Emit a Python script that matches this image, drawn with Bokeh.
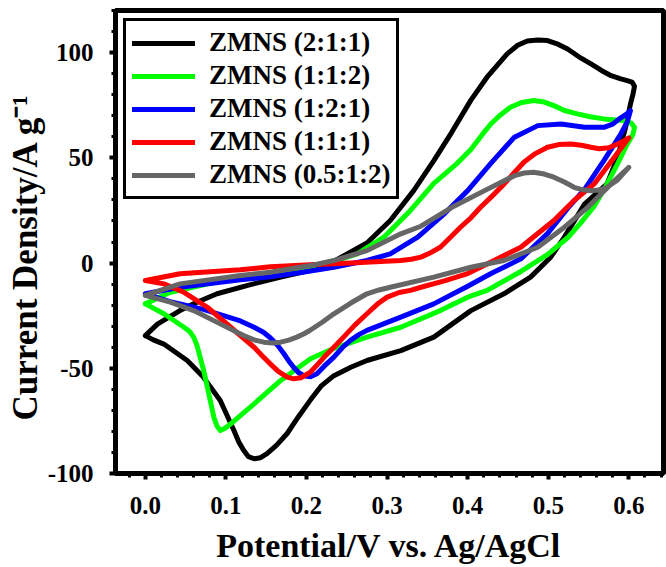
from bokeh.plotting import figure
from bokeh.models import (Range1d, FixedTicker, PrintfTickFormatter, Legend,
                          LegendItem, Title)
from bokeh.embed import file_html
from bokeh.resources import INLINE

# ---------------- data ----------------
labels = ["ZMNS (2:1:1)", "ZMNS (1:1:2)", "ZMNS (1:2:1)", "ZMNS (1:1:1)", "ZMNS (0.5:1:2)"]
colors = ["#000000", "#00ff00", "#0000ff", "#ff0000", "#666666"]

# ZMNS (2:1:1)
black_x = [0.0, 0.015, 0.043, 0.064, 0.089, 0.126, 0.168, 0.205, 0.23, 0.251, 0.275, 0.304,
           0.333, 0.358, 0.38, 0.404, 0.424, 0.449, 0.462, 0.474, 0.487, 0.499, 0.512, 0.524,
           0.538, 0.553, 0.566, 0.578, 0.59, 0.598, 0.604, 0.607, 0.605, 0.602, 0.596, 0.586,
           0.573, 0.545, 0.52, 0.503, 0.478, 0.445, 0.404, 0.358, 0.317, 0.275, 0.255, 0.234,
           0.218, 0.205, 0.19, 0.176, 0.163, 0.151, 0.143, 0.135, 0.128, 0.122, 0.116, 0.110,
           0.093, 0.072, 0.052, 0.023, 0.01, 0.0]
black_y = [-34.5, -29, -22.6, -18.6, -14.6, -10.7, -6.7, -3.5, 0, 4.4, 9.5, 20.2,
           34.4, 48.7, 62, 77.4, 88.3, 99.4, 103.5, 105.5, 106, 105.7, 104, 101.7,
           98, 94.6, 91.5, 89, 87.5, 86.7, 86, 84, 80, 75.6, 64.5, 50.3,
           37.6, 28, 12.3, 2.8, -6.7, -14.6, -22.6, -35.2, -41.6, -46.3, -49.5, -53.5,
           -58.5, -65, -73, -81, -86.5, -90.6, -92.5, -93, -92, -89, -85, -79.6,
           -65.3, -54.2, -46.3, -38.5, -36.5, -34.5]

# ZMNS (1:1:2)
green_x = [0.0, 0.031, 0.064, 0.1, 0.15, 0.2, 0.24, 0.263, 0.296, 0.329, 0.358, 0.387, 0.404,
           0.418, 0.429, 0.441, 0.453, 0.467, 0.482, 0.495, 0.507, 0.52, 0.536, 0.552, 0.569,
           0.585, 0.594, 0.603, 0.607, 0.605, 0.598, 0.586, 0.573, 0.557, 0.54, 0.524, 0.499,
           0.466, 0.424, 0.4, 0.366, 0.317, 0.275, 0.234, 0.205, 0.168, 0.135, 0.106, 0.099,
           0.093, 0.089, 0.085, 0.081, 0.077, 0.073, 0.068, 0.064, 0.060, 0.055, 0.048, 0.023,
           0.0]
green_y = [-19.4, -13.9, -11, -8, -5, -2, 1.5, 4.4, 12.3, 25, 37.9, 47.4, 54,
           61, 66.2, 70.5, 74, 76.3, 77.2, 76.5, 74.8, 72.5, 70.9, 69.5, 68.5,
           68, 67.7, 66.5, 64.5, 61, 56.6, 47.1, 37.6, 27, 19, 12, 4,
           -4, -13, -16.2, -22.6, -30.5, -35.2, -40.5, -45.5, -55.8, -66.9, -76.4, -78.5,
           -79.6, -77.5, -73.2, -66, -59, -52, -44.7, -39, -35.2, -32.5, -30.5, -24.1,
           -19.4]

# ZMNS (1:2:1)
blue_x = [0.0, 0.043, 0.118, 0.155, 0.193, 0.234, 0.275, 0.304, 0.338, 0.371, 0.4, 0.429,
          0.458, 0.487, 0.516, 0.545, 0.569, 0.58, 0.59, 0.598, 0.602, 0.598, 0.59, 0.569,
          0.545, 0.524, 0.499, 0.466, 0.429, 0.4, 0.358, 0.317, 0.275, 0.265, 0.255, 0.245,
          0.234, 0.222, 0.213, 0.205, 0.197, 0.19, 0.184, 0.178, 0.172, 0.164, 0.155, 0.147,
          0.135, 0.118, 0.097, 0.072, 0.031, 0.0]
blue_y = [-14.6, -11.5, -8, -6.5, -4.5, -2, 1.2, 4.4, 12.3, 23.4, 34.4, 47.5,
          59.8, 65.3, 66.1, 64.5, 64.5, 66, 69, 71, 72.4, 67, 61.3, 48.7,
          35, 26, 14, 2, -5, -11, -19.4, -25.7, -32, -34, -36.6, -40,
          -44.7, -49, -52.6, -54, -53.6, -52, -49.5, -46.5, -43.1, -39, -35.5, -33,
          -30.5, -27.5, -25, -22, -18.3, -14.6]

# ZMNS (1:1:1)
red_x = [0.0, 0.043, 0.118, 0.155, 0.205, 0.255, 0.317, 0.33, 0.342, 0.352, 0.366, 0.378,
         0.391, 0.404, 0.416, 0.429, 0.445, 0.458, 0.47, 0.484, 0.499, 0.513, 0.528, 0.541,
         0.553, 0.563, 0.575, 0.586, 0.594, 0.6, 0.582, 0.557, 0.532, 0.507, 0.466, 0.424,
         0.4, 0.371, 0.342, 0.329, 0.315, 0.3, 0.288, 0.275, 0.26, 0.246, 0.234, 0.222,
         0.213, 0.205, 0.193, 0.184, 0.176, 0.165, 0.155, 0.145, 0.135, 0.106, 0.077, 0.048,
         0.023, 0.0]
red_y = [-8.3, -5.1, -3.2, -1.8, -0.8, 0, 1.2, 1.8, 2.8, 4.5, 7.5, 12,
         17, 21.5, 26.5, 31.3, 37.5, 43, 48, 52, 55, 56.3, 56.6, 56,
         55, 54.3, 54.8, 56.6, 58, 59.5, 50.3, 37.6, 29.7, 20.2, 7.5, -0.4,
         -5, -8.5, -11.5, -13, -14, -16.2, -19.5, -24.1, -29.5, -35.2, -40, -44.7,
         -48.5, -51.8, -54.5, -55, -54.2, -51.5, -47.9, -44, -40, -30.5, -21, -13.9,
         -9.9, -8.3]

# ZMNS (0.5:1:2)
gray_x = [0.0, 0.043, 0.118, 0.155, 0.205, 0.234, 0.275, 0.317, 0.342, 0.383, 0.424, 0.458,
          0.47, 0.482, 0.495, 0.507, 0.52, 0.532, 0.543, 0.553, 0.563, 0.573, 0.586, 0.6,
          0.578, 0.549, 0.52, 0.487, 0.445, 0.404, 0.358, 0.304, 0.29, 0.275, 0.255, 0.234,
          0.22, 0.205, 0.197, 0.188, 0.178, 0.168, 0.158, 0.147, 0.135, 0.122, 0.093, 0.06,
          0.031, 0.0]
gray_y = [-15.4, -9.9, -5.9, -4.4, -1.2, 1.2, 5.9, 13.9, 17.5, 27, 35, 41.5,
          42.8, 43.1, 42.3, 40.8, 38.5, 36, 34.8, 34.4, 34.7, 36, 39.5, 45.5,
          37.6, 26.5, 17, 7.5, 1.2, -2, -6.7, -11.5, -12.8, -14.6, -19, -24.1,
          -28, -31.8, -33.6, -35.2, -36.6, -37.6, -38, -37.6, -36.5, -34.4, -28.9, -22.6,
          -18.6, -15.4]

series_x = [black_x, green_x, blue_x, red_x, gray_x]
series_y = [black_y, green_y, blue_y, red_y, gray_y]

x_ticks = [0.0, 0.1, 0.2, 0.3, 0.4, 0.5, 0.6]
x_minor = [-0.02, 0.02, 0.04, 0.06, 0.08, 0.12, 0.14, 0.16, 0.18, 0.22, 0.24, 0.26, 0.28,
           0.32, 0.34, 0.36, 0.38, 0.42, 0.44, 0.46, 0.48, 0.52, 0.54, 0.56, 0.58, 0.62, 0.64]
y_ticks = [-100, -50, 0, 50, 100]
y_minor = [-90, -80, -70, -60, -40, -30, -20, -10, 10, 20, 30, 40, 60, 70, 80, 90, 110, 120]

x_title = "Potential/V vs. Ag/AgCl"
y_title = "Current Density/A g\u207b\u00b9"

FONT = "Liberation Serif"

# ---------------- figure ----------------
p = figure(width=666, height=567, output_backend="svg", toolbar_location=None,
           x_range=Range1d(-0.037, 0.643), y_range=Range1d(-100, 120),
           min_border_left=115, min_border_right=3, min_border_top=10,
           min_border_bottom=94, background_fill_color="white",
           border_fill_color="white")
p.grid.visible = False
p.outline_line_color = "black"
p.outline_line_alpha = 1.0
p.outline_line_width = 5

items = []
for xs, ys, c, lab in zip(series_x, series_y, colors, labels):
    r = p.line(xs, ys, line_color=c, line_width=5, line_cap="round", line_join="round")
    items.append(LegendItem(label=lab, renderers=[r]))

for ax in (p.xaxis[0], p.yaxis[0]):
    ax.axis_line_width = 5
    ax.axis_line_color = "black"
    ax.major_tick_in = 0
    ax.major_tick_out = 6
    ax.major_tick_line_width = 4
    ax.major_tick_line_color = "black"
    ax.minor_tick_in = 0
    ax.minor_tick_out = 4
    ax.minor_tick_line_width = 3
    ax.minor_tick_line_color = "black"
    ax.major_label_text_font = FONT
    ax.major_label_text_font_style = "bold"
    ax.major_label_text_font_size = "25px"
    ax.major_label_text_color = "black"

p.xaxis[0].major_label_standoff = 17
p.yaxis[0].major_label_standoff = 16

p.xaxis[0].ticker = FixedTicker(ticks=x_ticks, minor_ticks=x_minor)
p.yaxis[0].ticker = FixedTicker(ticks=y_ticks, minor_ticks=y_minor)
p.xaxis[0].formatter = PrintfTickFormatter(format="%.1f")
p.yaxis[0].formatter = PrintfTickFormatter(format="%d")

p.xaxis[0].axis_label = x_title
p.xaxis[0].axis_label_text_font = FONT
p.xaxis[0].axis_label_text_font_style = "bold"
p.xaxis[0].axis_label_text_font_size = "34px"
p.xaxis[0].axis_label_text_color = "black"
p.xaxis[0].axis_label_standoff = 10

ytitle = Title(text=y_title, align="left", offset=53, standoff=0,
               text_font=FONT, text_font_style="bold", text_font_size="35px",
               text_color="black")
p.add_layout(ytitle, "left")

legend = Legend(items=items, location="top_left", margin=8, padding=6,
                spacing=2, glyph_width=63, glyph_height=20, label_height=20,
                label_standoff=14, label_text_font=FONT,
                label_text_font_style="bold", label_text_font_size="27px",
                label_text_color="black",
                border_line_color="black", border_line_width=3,
                border_line_alpha=1.0,
                background_fill_color="white", background_fill_alpha=1.0)
p.add_layout(legend)

open("out.html", "w").write(file_html(p, INLINE))
